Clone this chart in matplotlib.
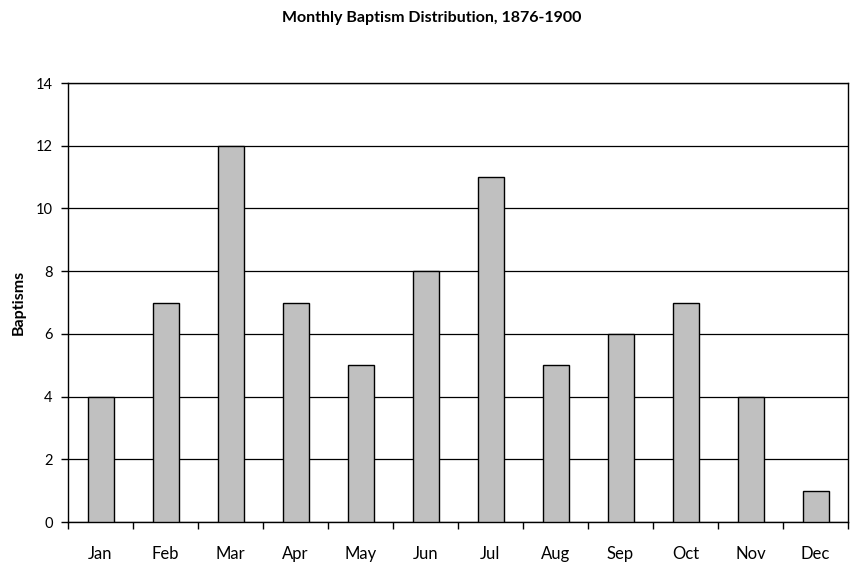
import matplotlib.pyplot as plt
import numpy as np

months = ["Jan", "Feb", "Mar", "Apr", "May", "Jun", "Jul", "Aug", "Sep", "Oct", "Nov", "Dec"]
baptisms = [4, 7, 12, 7, 5, 8, 11, 5, 6, 7, 4, 1]
y_ticks = [0, 2, 4, 6, 8, 10, 12, 14]

plt.rcParams["font.family"] = ["Lato", "DejaVu Sans"]

fig = plt.figure(figsize=(8.64, 5.65), dpi=100)
ax = fig.add_axes([68 / 864, 1 - 522 / 565, 780 / 864, 439 / 565])

x = np.arange(len(months))
ax.bar(x, baptisms, width=0.4, color="#c0c0c0", edgecolor="black", linewidth=1.0, zorder=3)

ax.set_xlim(-0.5, len(months) - 0.5)
ax.set_ylim(0, 14)
ax.set_yticks(y_ticks)
ax.set_yticklabels([str(v) for v in y_ticks], fontsize=10.5)
ax.yaxis.grid(True, color="black", linewidth=0.9, zorder=0)

# category labels at centres, tick marks between categories
ax.set_xticks(x)
ax.set_xticklabels(months, fontsize=12)
ax.tick_params(axis="x", length=0, pad=17)
ax.set_xticks(np.arange(-0.5, len(months), 1.0), minor=True)
ax.tick_params(axis="x", which="minor", length=5, width=1.0, direction="out")
ax.tick_params(axis="y", length=5, width=1.0, direction="out", pad=6)

for side in ["left", "right", "top", "bottom"]:
    ax.spines[side].set_linewidth(1.0)
    ax.spines[side].set_color("black")

ax.set_ylabel("Baptisms", fontsize=11.5, fontweight="bold", labelpad=7)
fig.text(0.5, 1 - 18 / 565, "Monthly Baptism Distribution, 1876-1900",
         ha="center", va="center", fontsize=11.5, fontweight="bold")

fig.savefig("out.png", dpi=100)
